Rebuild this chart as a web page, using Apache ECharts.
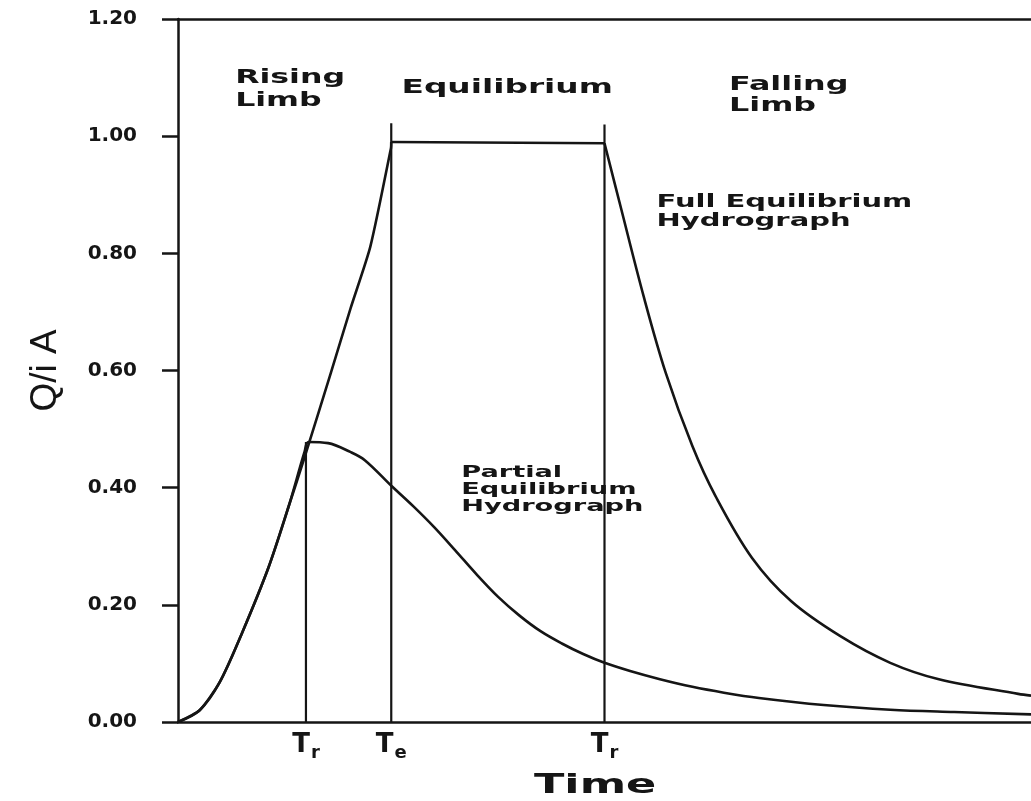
<!DOCTYPE html>
<html>
<head>
<meta charset="utf-8">
<script src="https://cdn.jsdelivr.net/npm/echarts@6/dist/echarts.min.js"></script>
<style>
html,body{margin:0;padding:0;background:#fff;}
#chart{width:1031px;height:801px;}
</style>
</head>
<body>
<div id="chart"></div>
<script>
// ---- data (time in arbitrary units, Q/iA dimensionless) ----
const riseTime   = [0, 2.54, 4.86, 7.51, 10.64, 12.95, 14.91, 17.92, 20.23, 22.54, 24.97, 25];
const riseQ      = [0, 0.020, 0.067, 0.152, 0.265, 0.367, 0.455, 0.596, 0.706, 0.811, 0.980, 0.990];
const topTime    = [25, 50];
const topQ       = [0.990, 0.988];
const fallTime   = [50, 51.9, 54.6, 57.2, 60.3, 63.0, 67.3, 71.9, 77.7, 83.5, 89.2, 98.5, 100];
const fallQ      = [0.988, 0.879, 0.726, 0.595, 0.471, 0.386, 0.280, 0.206, 0.146, 0.101, 0.073, 0.048, 0.045];
const partTime   = [0, 2.54, 4.86, 7.51, 10.64, 12.95, 14.85, 15.3, 17.6, 20.2, 21.9, 25.1, 27.6, 30, 32.5, 35, 37.5, 40, 42.5, 45, 47.5, 50, 53, 56.5, 60.3, 64, 68.1, 75.7, 83.5, 91, 100];
const partQ      = [0, 0.020, 0.067, 0.152, 0.265, 0.367, 0.462, 0.478, 0.476, 0.461, 0.447, 0.402, 0.368, 0.333, 0.293, 0.252, 0.214, 0.182, 0.155, 0.134, 0.116, 0.101, 0.087, 0.073, 0.060, 0.050, 0.041, 0.029, 0.021, 0.017, 0.013];
const markTime   = [15, 25, 50];
const markTop    = [0.478, 1.022, 1.020];
const xTickValues = [15, 25, 50];
const xTickSubs   = ['r', 'e', 'r'];

const INK = '#151515';
const FONT = 'DejaVu Sans';
const pairs = (xs, ys) => xs.map((x, i) => [x, ys[i]]);

const chart = echarts.init(document.getElementById('chart'), null, {renderer: 'canvas'});

const lineSeries = (name, data, smooth, width) => ({
  name, type: 'line', data, smooth: smooth,
  showSymbol: false, symbol: 'none', silent: true, animation: false,
  lineStyle: {color: INK, width: width}, z: 3
});

const series = [
  lineSeries('Full Equilibrium Hydrograph (rising)', pairs(riseTime, riseQ), 0.2, 2.6),
  lineSeries('Full Equilibrium Hydrograph (equilibrium)', pairs(topTime, topQ), false, 2.6),
  lineSeries('Full Equilibrium Hydrograph (falling)', pairs(fallTime, fallQ), 0.35, 2.6),
  lineSeries('Partial Equilibrium Hydrograph', pairs(partTime, partQ), 0.35, 2.6)
];
markTime.forEach((t, i) => {
  series.push(lineSeries('marker ' + i, [[t, 0], [t, markTop[i]]], false, 2.2));
});

const option = {
  backgroundColor: '#fff',
  animation: false,
  grid: {left: 178, top: 19, right: -12, bottom: 79, containLabel: false},
  xAxis: [{
    type: 'value', min: 0, max: 100, position: 'bottom',
    axisLine: {show: true, onZero: false, lineStyle: {color: INK, width: 2.5}},
    axisTick: {show: false},
    splitLine: {show: false},
    axisLabel: {
      show: true, customValues: xTickValues, margin: 6, color: INK,
      formatter: (v) => {
        const i = xTickValues.indexOf(v);
        return '{T|T}{s|' + (i >= 0 ? xTickSubs[i] : '') + '}';
      },
      rich: {
        T: {fontFamily: FONT, fontWeight: 'bold', fontSize: 26, color: INK},
        s: {fontFamily: FONT, fontWeight: 'bold', fontSize: 18, color: INK, padding: [16, 0, 0, 1]}
      }
    }
  }, {
    type: 'value', min: 0, max: 100, position: 'top',
    axisLine: {show: true, onZero: false, lineStyle: {color: INK, width: 2.5}},
    axisTick: {show: false}, axisLabel: {show: false}, splitLine: {show: false}
  }],
  yAxis: {
    type: 'value', min: 0, max: 1.2, interval: 0.2,
    name: 'Q/i A', nameLocation: 'middle', nameGap: 114, nameRotate: 90,
    nameTextStyle: {fontFamily: 'Liberation Sans', fontSize: 37, color: INK},
    axisLine: {show: true, onZero: false, lineStyle: {color: INK, width: 2.5}},
    axisTick: {show: true, inside: false, length: 16, lineStyle: {color: INK, width: 2.5}},
    splitLine: {show: false},
    axisLabel: {
      show: true, margin: 41, color: INK, fontFamily: FONT, fontWeight: 'bold', fontSize: 20,
      formatter: (v) => v.toFixed(2)
    }
  },
  series
};
chart.setOption(option);

// text annotations anchored at data coordinates (top-left of the text block)
const notes = [
  {text: 'Rising\nLimb', t: 6.7, q: 1.12, size: 20, lh: 23, sx: 1.58},
  {text: 'Equilibrium', t: 26.2, q: 1.103, size: 20, lh: 23, sx: 1.64},
  {text: 'Falling\nLimb', t: 64.6, q: 1.105, size: 20, lh: 21, sx: 1.59},
  {text: 'Full Equilibrium\nHydrograph', t: 56.1, q: 0.904, size: 18, lh: 19, sx: 1.61},
  {text: 'Partial\nEquilibrium\nHydrograph', t: 33.2, q: 0.44, size: 16, lh: 17, sx: 1.7}
];
const graphics = notes.map(n => {
  const p = chart.convertToPixel({gridIndex: 0}, [n.t, n.q]);
  return {
    type: 'text', x: p[0], y: p[1], scaleX: n.sx, silent: true, z: 10,
    style: {text: n.text, fill: INK, fontFamily: FONT, fontWeight: 'bold', fontSize: n.size,
            lineHeight: n.lh, textAlign: 'left', textVerticalAlign: 'top'}
  };
});
// x-axis title
const tp = chart.convertToPixel({gridIndex: 0}, [48.9, -0.087]);
graphics.push({
  type: 'text', x: tp[0], y: tp[1], scaleX: 1.65, silent: true, z: 10,
  style: {text: 'Time', fill: INK, fontFamily: FONT, fontWeight: 'bold', fontSize: 27,
          textAlign: 'center', textVerticalAlign: 'top'}
});
chart.setOption({graphic: graphics});
</script>
</body>
</html>
